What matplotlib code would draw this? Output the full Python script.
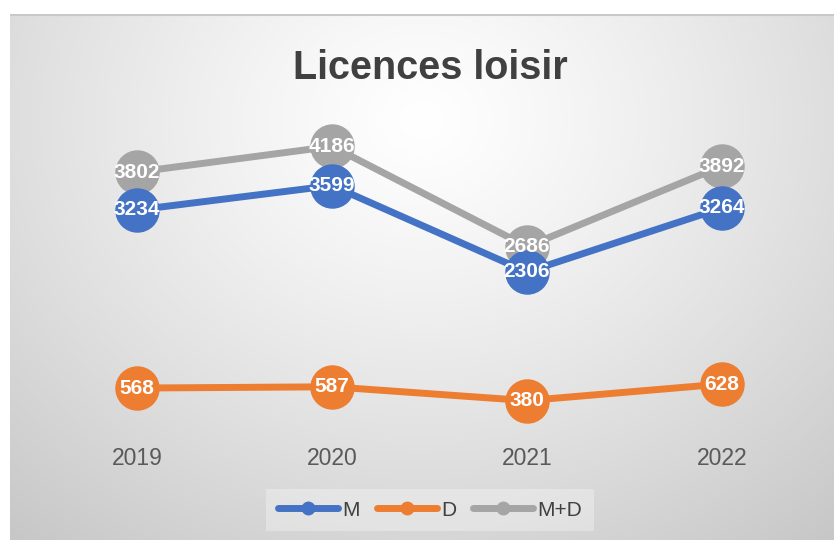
import numpy as np
import matplotlib.pyplot as plt

plt.rcParams['font.family'] = ['Liberation Sans', 'DejaVu Sans']

# Data
years = ['2019', '2020', '2021', '2022']
m_vals = [3234, 3599, 2306, 3264]
d_vals = [568, 587, 380, 628]
md_vals = [3802, 4186, 2686, 3892]

series = [('M', m_vals, '#4472C4'),
          ('D', d_vals, '#ED7D31'),
          ('M+D', md_vals, '#A5A5A5')]

W, H = 834, 540
fig = plt.figure(figsize=(W / 100, H / 100), dpi=100)
fig.patch.set_facecolor('white')

# chart area with radial gradient background (starts at x=10, y=14 px)
x0, y0 = 10, 14
bg = fig.add_axes([x0 / W, 0, 1 - x0 / W, 1 - y0 / H])
bg.set_axis_off()
gx, gy = np.meshgrid(np.linspace(0, 1, 300), np.linspace(0, 1, 200))
r = np.sqrt(((gx - 0.5) / 0.75) ** 2 + ((gy - 0.2) / 1.0) ** 2)
r = np.clip(r / r.max(), 0, 1)
shade = 1.0 - 0.22 * r ** 1.2
img = np.dstack([shade, shade, shade])
bg.imshow(img, extent=[0, 1, 1, 0], aspect='auto')
bg.set_xlim(0, 1)
bg.set_ylim(1, 0)
bg.axhline(0.0015, color='#c8c8c8', lw=1.5)

# plot area
ax = fig.add_axes([39.5 / W, 1 - 426 / H, 780 / W, 334 / H])
ax.patch.set_alpha(0)
x = np.arange(len(years))
# gray drawn first so the blue markers sit on top of it
for name, vals, col in [series[2], series[0], series[1]]:
    ax.plot(x, vals, color=col, lw=5, marker='o', markersize=31,
            solid_capstyle='round', label=name, zorder=2)
    for xi, v in zip(x, vals):
        ax.text(xi, v, str(v), color='white', fontsize=15, fontweight='bold',
                ha='center', va='center', zorder=3)

ax.set_xlim(-0.5, 3.5)
ax.set_ylim(0, 5000)
ax.set_xticks(x)
ax.set_xticklabels(years, fontsize=16.5, color='#595959')
ax.tick_params(axis='x', length=0, pad=15)
ax.set_yticks([])
for s in ax.spines.values():
    s.set_visible(False)

fig.text(430 / W, 1 - 68 / H, 'Licences loisir', ha='center', va='center',
         fontsize=28.5, fontweight='bold', color='#404040')

handles = []
for name, vals, col in series:
    h, = ax.plot([], [], color=col, lw=5, marker='o', markersize=9,
                 solid_capstyle='round', label=name)
    handles.append(h)
leg = fig.legend(handles=handles, loc='center', bbox_to_anchor=(430 / W, 1 - 510 / H),
                 ncol=3, frameon=True, fontsize=15, handlelength=2.9,
                 columnspacing=0.8, handletextpad=0.2, borderpad=0.55,
                 fancybox=False, labelcolor='#404040')
leg.get_frame().set_facecolor('white')
leg.get_frame().set_alpha(0.3)
leg.get_frame().set_linewidth(0)

fig.savefig('out.png', dpi=100)
